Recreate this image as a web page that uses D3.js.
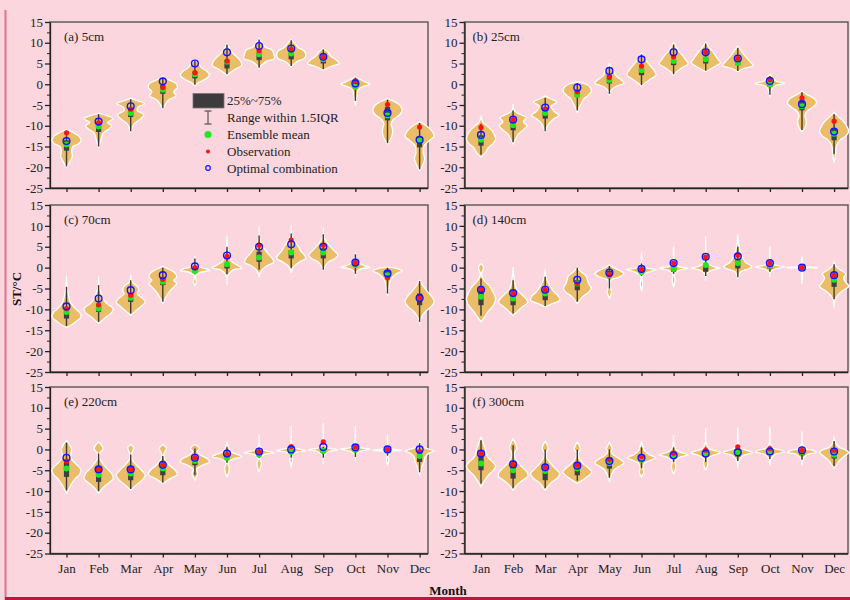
<!DOCTYPE html>
<html>
<head>
<meta charset="utf-8">
<script src="https://cdn.jsdelivr.net/npm/d3@7/dist/d3.min.js"></script>
<style>
  html, body { margin: 0; padding: 0; background: #fcd6de; }
  svg { display: block; }
  text { font-family: "Liberation Serif", "Times New Roman", serif; }
</style>
</head>
<body>
<svg id="chart" width="850" height="600"></svg>
<script>
// ---------- data ----------
const months = ["Jan","Feb","Mar","Apr","May","Jun","Jul","Aug","Sep","Oct","Nov","Dec"];
const yTicks = [15, 10, 5, 0, -5, -10, -15, -20, -25];
const yMinorTicks = [12.5, 7.5, 2.5, -2.5, -7.5, -12.5, -17.5, -22.5];
const panelTitles = ["(a) 5cm", "(b) 25cm", "(c) 70cm", "(d) 140cm", "(e) 220cm", "(f) 300cm"];

// violin profiles per month: [temperature, relative half-width]
const shape5cm = [
  [[-11,0],[-11.6,0.45],[-12.5,0.85],[-13.6,1],[-14.4,0.8],[-15,0.45],[-16,0.35],[-17.3,0.4],[-18.5,0.25],[-20,0]],
  [[-7,0],[-7.6,0.6],[-8.3,1],[-9.2,0.6],[-10,0.9],[-10.8,0.7],[-11.8,0.3],[-13.5,0.15],[-15.2,0]],
  [[-3.4,0],[-4,0.5],[-4.7,0.95],[-5.5,0.5],[-6.4,0.45],[-7.3,0.9],[-8.3,0.7],[-9.5,0.25],[-11.5,0]],
  [[1.8,0],[1.2,0.3],[0.2,0.9],[-0.8,1],[-1.8,0.75],[-2.8,0.9],[-3.8,0.4],[-5,0.15],[-6,0]],
  [[5.8,0],[5,0.25],[4,0.45],[3,0.85],[2.2,1],[1.4,0.8],[0.5,0.3],[-0.3,0]],
  [[9.8,0],[8.5,0.2],[7.5,0.4],[6.5,0.7],[5.5,0.95],[4.5,1],[3.5,0.5],[2.2,0]],
  [[11,0],[10,0.2],[9,0.4],[8.2,0.9],[7.2,1],[6.2,1.05],[5.5,0.5],[4.5,0.15],[3.8,0]],
  [[10.8,0],[9.8,0.25],[8.8,0.5],[8,0.9],[7,1],[6.2,0.9],[5.5,0.4],[4.2,0]],
  [[8.6,0],[7.8,0.3],[6.8,0.5],[5.8,0.9],[5,1.1],[4.4,0.6],[3.4,0]],
  [[1.8,0],[1.2,0.3],[0.5,0.7],[0,1],[-0.5,0.6],[-1.3,0.2],[-3,0.1],[-5.1,0]],
  [[-3.5,0],[-4.3,0.55],[-5.3,0.9],[-6.3,1],[-7.3,0.85],[-8.5,0.4],[-9.5,0.25],[-11,0.35],[-12.5,0.3],[-14.4,0]],
  [[-9.1,0],[-10,0.45],[-11.3,0.85],[-12.5,1],[-13.5,0.7],[-14.8,0.3],[-16.5,0.25],[-18,0.35],[-19.5,0.2],[-20.8,0]]
];
const q3_5cm = [-13.5,-9.5,-5.9,-0.2,3,5.8,7.6,7.4,6.6,0.6,-5.5,-12.7];
const q1_5cm = [-16,-11.5,-7.9,-2.3,1.4,3.8,5.8,6.0,5.0,-1,-8.7,-15.2];
const whHi5cm = [-11.2,-7.2,-3.6,1.6,5.6,9.6,10.8,10.6,8.4,1.6,-3.7,-9.3];
const whLo5cm = [-19.8,-15,-11.3,-5.8,-0.1,2.4,4,4.4,3.6,-4,-14.2,-20.5];
const mean5cm = [-14.5,-10.2,-6.9,-1.3,2.4,5.4,7.2,7.4,6.0,-0.6,-7.5,-13.5];
const obs5cm = [-11.7,-9.3,-6.0,-0.8,2.8,5.6,8.1,8.5,6.6,0.8,-4.9,-10.3];
const opt5cm = [-13.7,-9.0,-5.3,0.7,5.0,7.7,9.2,8.6,6.6,0.2,-6.9,-13.4];

const shape25cm = [
  [[-7.6,0],[-9,0.1],[-10,0.4],[-11,0.7],[-12,0.9],[-13.2,1],[-14.2,0.85],[-15.3,0.5],[-16.5,0.3],[-17.6,0]],
  [[-4.8,0],[-6.5,0.1],[-7.3,0.5],[-8,0.9],[-9,0.7],[-10,0.95],[-11,0.7],[-12,0.35],[-13,0.2],[-14.4,0]],
  [[-2.8,0],[-3.5,0.35],[-4.3,0.8],[-5.3,0.4],[-6.5,0.6],[-7.5,0.95],[-8.3,0.6],[-9.5,0.25],[-11.5,0]],
  [[0.6,0],[0,0.6],[-0.8,0.9],[-1.8,0.95],[-2.8,0.7],[-3.5,0.45],[-4.5,0.3],[-5.5,0.15],[-6.8,0]],
  [[5,0],[4,0.1],[3.2,0.3],[2.2,0.4],[1.2,0.75],[0.3,1],[-0.6,0.4],[-1.5,0.1],[-2.7,0]],
  [[7.6,0],[6.5,0.2],[5.5,0.35],[4.5,0.6],[3.4,0.85],[2.2,1],[1.2,0.6],[0.2,0.2],[-0.4,0]],
  [[10.2,0],[9,0.15],[8,0.35],[7,0.6],[6,0.8],[5,1],[4,0.6],[3,0.2],[2.2,0]],
  [[10.2,0],[9,0.2],[8,0.45],[7,0.65],[6,0.85],[5.2,1],[4.2,0.6],[3,0]],
  [[9.2,0],[8.2,0.2],[7.2,0.4],[6.2,0.65],[5.2,0.9],[4.5,1.05],[3.8,0.4],[3,0]],
  [[2.4,0],[1.6,0.2],[0.8,0.4],[0.2,1],[-0.3,0.4],[-1,0.15],[-2,0.05],[-3.1,0]],
  [[-1.6,0],[-2.5,0.35],[-3.5,0.85],[-4.5,1],[-5.5,0.75],[-6.5,0.35],[-7.5,0.2],[-9,0.3],[-10.5,0.2],[-11.5,0]],
  [[-6.7,0],[-7.5,0.2],[-8.8,0.6],[-10,0.85],[-11.3,1],[-12.5,0.8],[-13.5,0.4],[-15,0.15],[-17,0.1],[-18.8,0]]
];
const q3_25cm = [-12.3,-9.1,-5.6,-1.5,2.2,3.8,5.8,6.6,5.8,0.6,-3.9,-10.7];
const q1_25cm = [-14.8,-11.1,-8.3,-3.1,0.2,2.2,4.6,5.0,4.6,-0.5,-6.3,-13.5];
const whHi25cm = [-9.5,-6.3,-3.3,0.3,4.2,7.2,9.6,9.8,8.8,2.0,-1.9,-7.2];
const whLo25cm = [-17,-14,-11.3,-6.3,-2.3,-0.2,2.4,3.3,3.2,-2.5,-11,-16.8];
const mean25cm = [-13.4,-9.9,-6.9,-2.5,1.0,3.4,5.6,6.0,5.2,0,-5.3,-11.9];
const obs25cm = [-10.4,-8.5,-6.0,-1.8,1.6,4.4,6.6,7.7,6.2,1.1,-3.3,-8.9];
const opt25cm = [-12.2,-8.5,-5.6,-0.8,3.2,6.0,7.7,7.7,6.2,0.8,-4.8,-11.4];

const shape70cm = [
  [[-2,0],[-4.5,0.03],[-7,0.15],[-8.5,0.3],[-9.8,0.6],[-10.8,0.9],[-11.8,1],[-12.8,0.7],[-13.8,0.3],[-14.3,0]],
  [[-2.2,0],[-4.5,0.03],[-6,0.15],[-7.5,0.3],[-8.7,0.6],[-9.8,1],[-10.8,0.9],[-11.8,0.5],[-12.8,0.2],[-13.4,0]],
  [[-1.8,0],[-3.5,0.1],[-4.3,0.4],[-5.3,0.55],[-6.3,0.45],[-7.3,0.8],[-8.3,1],[-9.3,0.7],[-10.5,0.3],[-11.4,0]],
  [[0.3,0],[-0.5,0.5],[-1.3,0.85],[-2.3,0.95],[-3,0.75],[-3.8,0.95],[-4.8,0.7],[-6,0.4],[-7.5,0.15],[-8.6,0]],
  [[2.7,0],[1,0.03],[0.2,0.3],[-0.3,0.8],[-0.7,1],[-1.1,0.4],[-2,0.05],[-3.5,0.1],[-4.3,0]],
  [[7.4,0],[5,0.04],[3,0.15],[1.5,0.3],[0.6,0.7],[-0.1,1],[-0.6,0.4],[-2,0.05],[-4,0]],
  [[9.8,0],[7,0.03],[5.5,0.2],[4.3,0.4],[3.2,0.65],[2.2,0.9],[1.3,1],[0.4,0.5],[-1,0.1],[-2.2,0]],
  [[10,0],[7.5,0.05],[6,0.3],[5,0.5],[4,0.65],[3,0.9],[2.2,1],[1.3,0.55],[0.2,0.15],[-1.2,0]],
  [[9.4,0],[7.2,0.05],[6,0.25],[5,0.5],[4,0.75],[3,1],[2.2,0.8],[1.2,0.3],[-0.6,0]],
  [[3.8,0],[2,0.05],[1.2,0.2],[0.5,0.6],[0.1,1],[-0.4,0.3],[-1.2,0.05],[-2.2,0]],
  [[0.1,0],[-0.3,0.7],[-0.8,1],[-1.5,0.6],[-2.5,0.3],[-3.5,0.15],[-5,0.08],[-6.6,0]],
  [[-3,0],[-4.5,0.25],[-5.8,0.55],[-7,0.85],[-8.2,1],[-9.3,0.8],[-10.5,0.4],[-12,0.1],[-13.5,0]]
];
const q3_70cm = [-9.8,-9,-6.2,-2.2,-0.2,1,3.8,4.2,4.6,1.4,-0.6,-6.2];
const q1_70cm = [-12.2,-10.6,-8.2,-4.2,-1,-0.2,1.4,2.2,2.2,0.2,-2.6,-9];
const whHi70cm = [-4.6,-4.2,-3.0,0.0,2.2,5.0,7.7,8.2,8.0,3.2,0,-3.2];
const whLo70cm = [-14,-13,-11,-8.2,-1.5,-1.5,-0.5,0,-0.5,-1.5,-6.2,-13];
const mean70cm = [-10.6,-9.8,-7.2,-3.4,-0.8,0.8,2.4,3.6,3.6,0.6,-1.8,-7.4];
const obs70cm = [-9.8,-8.9,-6.6,-2.8,0,2.7,5.4,6.6,5.4,1.2,-2.4,-7.3];
const opt70cm = [-9.3,-7.4,-5.4,-1.8,0.3,2.9,5.0,5.6,5.0,1.2,-1.4,-7.3];

const shape140cm = [
  [[1,0],[0.3,0.15],[-0.5,0.15],[-1.5,0.03],[-3,0.2],[-4.5,0.6],[-6,0.85],[-7.5,1],[-9,0.85],[-10.5,0.5],[-12,0.2],[-13,0]],
  [[0,0],[-2,0.05],[-3.5,0.1],[-4.8,0.2],[-6,0.45],[-7.3,0.85],[-8.3,1],[-9.5,0.6],[-10.8,0.2],[-11.5,0]],
  [[-0.5,0],[-2,0.05],[-3.2,0.15],[-4.5,0.35],[-5.8,0.6],[-6.8,0.9],[-7.8,1],[-8.6,0.5],[-9.4,0]],
  [[0,0],[-1,0.25],[-2,0.6],[-3,0.7],[-4,0.8],[-5,0.95],[-6,0.75],[-7,0.35],[-8.6,0]],
  [[0.6,0],[0,0.3],[-0.7,0.7],[-1.4,1],[-2.2,0.7],[-3,0.1],[-4.5,0.05],[-5.8,0.15],[-7.4,0]],
  [[3.4,0],[1,0.03],[0,0.3],[-0.5,1],[-1,0.5],[-2,0.05],[-4,0.08],[-5.5,0]],
  [[5,0],[1.5,0.03],[0.3,0.3],[-0.1,1],[-0.6,0.4],[-1.5,0.05],[-3,0.1],[-4.6,0]],
  [[7.4,0],[3,0.03],[1,0.15],[0.3,0.5],[-0.1,1],[-0.6,0.4],[-1.5,0.05],[-3,0]],
  [[7.8,0],[5.8,0.05],[4,0.15],[2.5,0.3],[1.2,0.55],[0.3,0.95],[-0.2,0.8],[-1,0.2],[-2.6,0]],
  [[5,0],[2,0.03],[0.8,0.2],[0.2,1],[-0.3,0.4],[-1,0.05],[-2.2,0]],
  [[2.6,0],[0.5,0.05],[0,1.05],[-0.3,0.1],[-2,0.03],[-3.8,0]],
  [[1.4,0],[0.5,0.1],[-0.5,0.4],[-1.5,0.8],[-2.5,0.65],[-3.5,0.8],[-4.5,1],[-5.5,0.6],[-6.8,0.2],[-8,0.05],[-9.4,0]]
];
const q3_140cm = [-5,-6.2,-5.8,-3,-0.8,0,0.2,1,1.8,0.6,0.2,-2.2];
const q1_140cm = [-9,-9,-7.8,-5.4,-2.2,-1,-1,-1,-0.2,-0.2,-0.3,-4.6];
const whHi140cm = [-2.6,-3,-2.2,0,0.4,1,1.5,3,5,1.5,0.3,0.8];
const whLo140cm = [-11.5,-11,-9.2,-8.2,-5,-2,-1.5,-2,-2.3,-1,-0.5,-7.5];
const mean140cm = [-7,-7.4,-6.2,-3.8,-1.8,-1.1,-0.3,0.6,1.1,0.5,0,-2.9];
const obs140cm = [-5,-6.1,-5.4,-3.8,-1.7,-0.5,1.1,2.6,3,1.2,0,-1.8];
const opt140cm = [-5.3,-6.1,-5.3,-2.9,-1.2,-0.3,1.1,2.6,2.7,1.1,0,-1.8];

const shape220cm = [
  [[2.2,0],[1.2,0.2],[0,0.35],[-1,0.3],[-2,0.3],[-3,0.5],[-4,0.8],[-5,1],[-6,0.9],[-7,0.6],[-8.2,0.35],[-9.5,0.15],[-10.6,0]],
  [[1.8,0],[0.8,0.25],[0,0.3],[-0.8,0.1],[-2,0.05],[-3,0.2],[-4.5,0.55],[-5.8,0.9],[-7,1],[-8,0.7],[-9.2,0.3],[-10.6,0]],
  [[1.2,0],[0.5,0.2],[-0.3,0.15],[-1.2,0.05],[-2.5,0.1],[-3.8,0.4],[-5,0.75],[-6.2,1],[-7.3,0.8],[-8.5,0.4],[-9.8,0]],
  [[1.2,0],[0.3,0.25],[-0.5,0.15],[-1.5,0.05],[-2.8,0.2],[-3.8,0.45],[-5,0.85],[-6,1],[-7,0.5],[-8.2,0]],
  [[1.2,0],[0.3,0.3],[-0.5,0.15],[-1.4,0.4],[-2.2,0.85],[-3,1],[-3.8,0.5],[-4.8,0.1],[-5.8,0.2],[-6.6,0.1],[-7.4,0]],
  [[1.8,0],[0.5,0.1],[-0.6,0.3],[-1.3,0.8],[-1.8,1],[-2.3,0.4],[-3.2,0.05],[-4.3,0.15],[-5.5,0.12],[-6.6,0]],
  [[3.4,0],[1,0.03],[0,0.2],[-0.5,0.7],[-0.8,1],[-1.3,0.3],[-2.2,0.05],[-3.2,0.15],[-4.3,0.1],[-5.4,0]],
  [[5.5,0],[2,0.03],[0.5,0.15],[0,0.7],[-0.3,1],[-0.7,0.3],[-1.6,0.03],[-2.5,0.1],[-3.3,0.05],[-4.2,0]],
  [[6.2,0],[2,0.03],[0.5,0.2],[-0.1,1],[-0.5,0.4],[-1.5,0.05],[-3.4,0]],
  [[5.5,0],[2,0.03],[0.6,0.2],[0.1,1],[-0.4,0.4],[-1.2,0.05],[-2.6,0]],
  [[3.4,0],[1,0.03],[0.2,0.25],[-0.2,1],[-0.5,0.2],[-1.5,0.03],[-2.5,0.08],[-3.8,0]],
  [[2.2,0],[0.8,0.1],[0,0.7],[-0.4,1],[-1,0.6],[-2,0.35],[-3,0.3],[-4.2,0.15],[-6.2,0]]
];
const q3_220cm = [-2.6,-4.2,-4.2,-3.8,-1.8,-1.2,-0.3,0,0,0.2,0.1,-0.2];
const q1_220cm = [-6.6,-7.8,-7.4,-6.2,-3.8,-2.2,-1.3,-1,-0.8,-0.6,-0.5,-3];
const whHi220cm = [1.6,-1,-1.2,-1.6,0.2,0.5,0.3,0.5,0.6,0.8,0.3,1.5];
const whLo220cm = [-9.8,-10,-9.5,-8,-6.2,-3.2,-2,-2,-2,-1.8,-1.5,-5.5];
const mean220cm = [-4.6,-6.1,-5.8,-4.6,-2.8,-2,-1.3,-0.6,-0.4,-0.1,-0.2,-1.6];
const obs220cm = [-2.8,-4.8,-4.8,-3.7,-2,-1.2,-0.5,0.7,1.8,0.6,0,-0.5];
const opt220cm = [-2,-4.8,-4.8,-3.7,-2,-1,-0.5,0,0.6,0.5,0,0];

const shape300cm = [
  [[3,0],[2,0.1],[1,0.2],[0,0.3],[-1,0.35],[-2,0.5],[-3,0.8],[-4,1],[-5,0.85],[-6,0.55],[-7.2,0.3],[-8.2,0.12],[-9,0]],
  [[2.6,0],[1.5,0.15],[0.3,0.25],[-0.8,0.1],[-1.8,0.1],[-3,0.3],[-4.2,0.6],[-5.4,0.95],[-6.5,1],[-7.5,0.6],[-8.8,0.2],[-9.8,0]],
  [[2,0],[1,0.15],[0.1,0.2],[-0.8,0.05],[-2,0.1],[-3.3,0.35],[-4.6,0.7],[-5.8,1],[-6.8,0.85],[-8,0.4],[-9.8,0]],
  [[1.8,0],[0.8,0.15],[0,0.2],[-0.8,0.05],[-2,0.1],[-3.2,0.35],[-4.3,0.7],[-5.4,1],[-6.5,0.7],[-7.5,0.3],[-8.2,0]],
  [[1.8,0],[1,0.1],[0.2,0.2],[-0.6,0.1],[-1.5,0.35],[-2.4,0.75],[-3.2,1],[-4,0.7],[-5,0.3],[-6.5,0.1],[-7.8,0]],
  [[1.8,0],[0.6,0.1],[-0.3,0.2],[-1.2,0.5],[-2,0.95],[-2.6,0.6],[-3.5,0.15],[-4.5,0.1],[-5.5,0.15],[-6.6,0]],
  [[3.4,0],[1,0.04],[0,0.15],[-0.7,0.45],[-1.3,1],[-1.8,0.5],[-2.8,0.1],[-4,0.15],[-5,0.1],[-5.8,0]],
  [[5,0],[1.5,0.03],[0.3,0.2],[-0.3,0.6],[-0.8,1],[-1.4,0.5],[-2.3,0.1],[-3.2,0.15],[-4.2,0.1],[-5,0]],
  [[5.2,0],[1.5,0.03],[0.2,0.25],[-0.4,0.8],[-0.8,1],[-1.4,0.4],[-2.5,0.1],[-4.2,0]],
  [[5.4,0],[1.5,0.03],[0.3,0.25],[-0.2,0.8],[-0.6,1],[-1.1,0.4],[-2.2,0.08],[-3.8,0]],
  [[4.2,0],[1.2,0.04],[0.2,0.25],[-0.3,0.8],[-0.7,1],[-1.2,0.4],[-2.2,0.08],[-3.8,0]],
  [[3,0],[1.5,0.1],[0.5,0.35],[-0.2,0.85],[-0.8,1],[-1.5,0.75],[-2.5,0.4],[-3.5,0.2],[-4.6,0]]
];
const q3_300cm = [-1.4,-3.4,-4.2,-3.4,-2,-1.6,-0.8,-0.2,-0.1,0,-0.2,-0.2];
const q1_300cm = [-5,-7,-7.4,-6.2,-4.6,-2.6,-1.8,-1.7,-1.7,-1.2,-1.4,-2.2];
const whHi300cm = [2.2,1,0,-0.1,0,0.5,0.5,0.5,0.5,0.5,0.5,2];
const whLo300cm = [-8.2,-9.3,-9.3,-7.5,-6.8,-4.5,-3,-3,-2.8,-2.3,-2.5,-4];
const mean300cm = [-3.4,-5,-5.2,-4.6,-3.3,-2.5,-1.7,-1,-0.7,-0.5,-0.6,-1.3];
const obs300cm = [-1,-3.6,-4.3,-3.8,-2.5,-1.7,-0.9,-0.2,0.6,0.2,-0.2,-0.2];
const opt300cm = [-1,-3.6,-4.3,-3.9,-2.8,-2,-1.4,-1,-0.7,-0.5,-0.2,-0.5];

const legendItems = ["25%~75%", "Range within 1.5IQR", "Ensemble mean", "Observation", "Optimal combination"];

// ---------- assemble panels ----------
const panels = [
  { title: panelTitles[0], shape: shape5cm,   q1: q1_5cm,   q3: q3_5cm,   lo: whLo5cm,   hi: whHi5cm,   mean: mean5cm,   obs: obs5cm,   opt: opt5cm },
  { title: panelTitles[1], shape: shape25cm,  q1: q1_25cm,  q3: q3_25cm,  lo: whLo25cm,  hi: whHi25cm,  mean: mean25cm,  obs: obs25cm,  opt: opt25cm },
  { title: panelTitles[2], shape: shape70cm,  q1: q1_70cm,  q3: q3_70cm,  lo: whLo70cm,  hi: whHi70cm,  mean: mean70cm,  obs: obs70cm,  opt: opt70cm },
  { title: panelTitles[3], shape: shape140cm, q1: q1_140cm, q3: q3_140cm, lo: whLo140cm, hi: whHi140cm, mean: mean140cm, obs: obs140cm, opt: opt140cm },
  { title: panelTitles[4], shape: shape220cm, q1: q1_220cm, q3: q3_220cm, lo: whLo220cm, hi: whHi220cm, mean: mean220cm, obs: obs220cm, opt: opt220cm },
  { title: panelTitles[5], shape: shape300cm, q1: q1_300cm, q3: q3_300cm, lo: whLo300cm, hi: whHi300cm, mean: mean300cm, obs: obs300cm, opt: opt300cm }
];

// ---------- layout ----------
const svg = d3.select("#chart");
const colLeft = [50, 464.5], colRight = [428, 848];
const rowTop = [22, 205, 387], rowBottom = [188, 372, 553.5];
const step = 32.1, firstOffset = 16.5;

const C = {
  violin: "#ebbd68", box: "#3f3f3f", whisker: "#3a3a3a",
  mean: "#22e622", obs: "#ff1414", opt: "#1414ff", frame: "#555", axis: "#222"
};
const halfWidth = d3.scaleLinear().domain([0, 1]).range([0, 14.6]);

// page decorations
svg.append("rect").attr("width", 850).attr("height", 600).attr("fill", "#fcd6de");
svg.append("line").attr("x1", 5.5).attr("x2", 5.5).attr("y1", 10).attr("y2", 600)
  .attr("stroke", "#e0738d").attr("stroke-width", 2);
svg.append("line").attr("x1", 5).attr("x2", 850).attr("y1", 598.5).attr("y2", 598.5)
  .attr("stroke", "#c4123e").attr("stroke-width", 3);

panels.forEach((p, i) => {
  const col = i % 2, row = Math.floor(i / 2);
  const L = colLeft[col], R = colRight[col], T = rowTop[row], B = rowBottom[row];

  const x = d3.scalePoint().domain(months).range([L + firstOffset, L + firstOffset + step * 11]);
  const y = d3.scaleLinear().domain([-25, 15]).range([B, T]);

  const g = svg.append("g");

  // top / right frame
  g.append("rect").attr("x", L).attr("y", T).attr("width", R - L).attr("height", B - T)
    .attr("fill", "none").attr("stroke", C.frame).attr("stroke-width", 1.4);

  // y axis with minor ticks
  const yAxis = d3.axisLeft(y).tickValues(yTicks).tickFormat(d => String(d))
    .tickSize(5).tickSizeOuter(0).tickPadding(2);
  const ya = g.append("g").attr("transform", `translate(${L},0)`).call(yAxis);
  ya.selectAll("text").attr("font-size", 13).attr("fill", "#222")
    .attr("font-family", '"Liberation Serif", "Times New Roman", serif');
  ya.selectAll("path,line").attr("stroke", C.axis).attr("stroke-width", 1.3);
  const yMinor = d3.axisLeft(y).tickValues(yMinorTicks).tickFormat("").tickSize(3).tickSizeOuter(0);
  const ym = g.append("g").attr("transform", `translate(${L},0)`).call(yMinor);
  ym.select("path").remove();
  ym.selectAll("line").attr("stroke", C.axis).attr("stroke-width", 1);

  // x axis (labels only on the bottom row)
  const xAxis = d3.axisBottom(x).tickSize(4).tickSizeOuter(0).tickPadding(6)
    .tickFormat(row === 2 ? (d => d) : "");
  const xa = g.append("g").attr("transform", `translate(0,${B})`).call(xAxis);
  xa.select("path").attr("d", `M${L},0.5H${R}`);
  xa.selectAll("path,line").attr("stroke", C.axis).attr("stroke-width", 1.3);
  xa.selectAll("text").attr("font-size", 13).attr("fill", "#222")
    .attr("font-family", '"Liberation Serif", "Times New Roman", serif');

  // panel label
  g.append("text").attr("x", L + (col === 0 ? 14 : 8)).attr("y", T + 19)
    .attr("font-size", 13).attr("fill", "#222").text(p.title);

  // violins
  months.forEach((m, j) => {
    const cx = x(m);
    const area = d3.area()
      .y(d => y(d[0]))
      .x0(d => cx - halfWidth(d[1]))
      .x1(d => cx + halfWidth(d[1]))
      .curve(d3.curveCatmullRom.alpha(0.5));
    g.append("path").datum(p.shape[j]).attr("d", area)
      .attr("fill", C.violin).attr("stroke", "#fff").attr("stroke-width", 1.3)
      .attr("stroke-linejoin", "round");

    // whisker and interquartile box
    g.append("line").attr("x1", cx).attr("x2", cx).attr("y1", y(p.hi[j])).attr("y2", y(p.lo[j]))
      .attr("stroke", C.whisker).attr("stroke-width", 1.4);
    g.append("rect").attr("x", cx - 2.6).attr("width", 5.2)
      .attr("y", y(p.q3[j])).attr("height", y(p.q1[j]) - y(p.q3[j]))
      .attr("fill", C.box);

    // markers
    g.append("circle").attr("cx", cx).attr("cy", y(p.mean[j])).attr("r", 3)
      .attr("fill", C.mean);
    g.append("circle").attr("cx", cx).attr("cy", y(p.obs[j])).attr("r", 2.6)
      .attr("fill", C.obs);
    g.append("circle").attr("cx", cx).attr("cy", y(p.opt[j])).attr("r", 3.4)
      .attr("fill", "none").attr("stroke", C.opt).attr("stroke-width", 1.4);
  });
});

// legend inside panel (a)
const lg = svg.append("g");
const lx = 208, tx = 227, rowsY = [100.5, 117.5, 134.5, 151.5, 168];
lg.append("rect").attr("x", 193).attr("y", 93.5).attr("width", 31).attr("height", 14.5)
  .attr("fill", "#3c3c3c").attr("stroke", "#777").attr("stroke-width", 0.8);
lg.append("line").attr("x1", lx).attr("x2", lx).attr("y1", 111).attr("y2", 124)
  .attr("stroke", "#555").attr("stroke-width", 1.2);
[111, 124].forEach(yy => lg.append("line").attr("x1", lx - 3.5).attr("x2", lx + 3.5)
  .attr("y1", yy).attr("y2", yy).attr("stroke", "#555").attr("stroke-width", 1.2));
lg.append("circle").attr("cx", lx).attr("cy", rowsY[2]).attr("r", 3.6).attr("fill", C.mean);
lg.append("circle").attr("cx", lx).attr("cy", rowsY[3]).attr("r", 2).attr("fill", C.obs);
lg.append("circle").attr("cx", lx).attr("cy", rowsY[4]).attr("r", 2.3)
  .attr("fill", "none").attr("stroke", C.opt).attr("stroke-width", 1.2);
legendItems.forEach((t, k) => {
  lg.append("text").attr("x", tx).attr("y", rowsY[k]).attr("dy", "0.35em")
    .attr("font-size", 13).attr("fill", "#222").text(t);
});

// axis titles
svg.append("text").attr("transform", "translate(21,289) rotate(-90)")
  .attr("text-anchor", "middle").attr("font-size", 13).attr("font-weight", "bold")
  .attr("fill", "#111").text("ST/°C");
svg.append("text").attr("x", 448).attr("y", 595).attr("text-anchor", "middle")
  .attr("font-size", 13).attr("font-weight", "bold").attr("fill", "#111").text("Month");
</script>
</body>
</html>
